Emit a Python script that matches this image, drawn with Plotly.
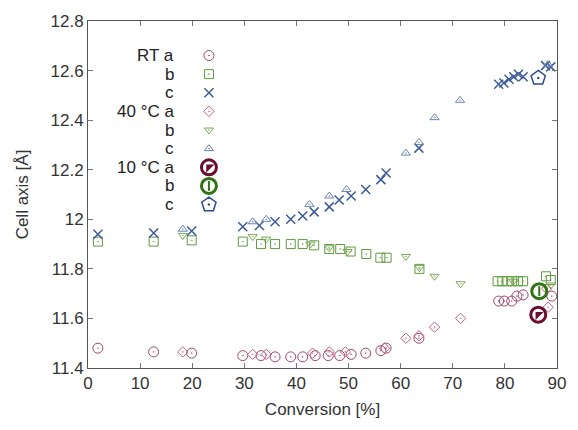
import plotly.graph_objects as go

# ---------------- data ----------------
rt_a_x = [1.9, 12.6, 19.9, 29.7, 33.2, 35.9, 38.9, 41.2, 43.6, 46.1, 48.3, 50.5, 53.3, 56.2, 57.2, 63.5,
          78.8, 79.9, 81.3, 82.3, 83.5, 89.0]
rt_a_y = [11.48, 11.465, 11.46, 11.45, 11.45, 11.445, 11.445, 11.445, 11.45, 11.45, 11.45, 11.455, 11.46,
          11.47, 11.48, 11.52, 11.67, 11.67, 11.67, 11.69, 11.695, 11.69]

rt_b_x = [1.9, 12.6, 19.9, 29.7, 33.2, 35.9, 38.9, 41.2, 43.4, 46.3, 48.4, 50.4, 53.4, 56.1, 57.3, 63.6,
          78.6, 79.5, 80.5, 81.4, 82.5, 83.5, 87.9, 88.8]
rt_b_y = [11.91, 11.91, 11.915, 11.91, 11.90, 11.90, 11.90, 11.90, 11.895, 11.88, 11.88, 11.87, 11.86,
          11.845, 11.845, 11.80, 11.75, 11.75, 11.75, 11.75, 11.75, 11.75, 11.77, 11.755]

rt_c_x = [1.9, 12.6, 19.9, 29.7, 32.9, 35.9, 38.9, 41.2, 43.4, 46.3, 48.2, 50.5, 53.3, 56.2, 57.2, 63.5,
          78.8, 79.8, 80.8, 81.7, 82.6, 83.5, 87.8, 88.8]
rt_c_y = [11.94, 11.945, 11.953, 11.97, 11.975, 11.99, 12.0, 12.013, 12.03, 12.05, 12.078, 12.094, 12.12,
          12.16, 12.187, 12.287, 12.545, 12.55, 12.565, 12.575, 12.585, 12.575, 12.62, 12.615]

c40_a_x = [18.2, 31.6, 34.2, 43.1, 46.3, 49.4, 56.9, 61.0, 63.5, 66.5, 71.5, 88.0, 88.3]
c40_a_y = [11.465, 11.455, 11.455, 11.46, 11.465, 11.465, 11.48, 11.52, 11.53, 11.565, 11.60, 11.72, 11.645]

c40_b_x = [18.2, 31.6, 34.2, 42.7, 46.3, 49.8, 61.0, 63.6, 66.5, 71.5, 81.6, 88.8]
c40_b_y = [11.935, 11.93, 11.92, 11.90, 11.885, 11.87, 11.85, 11.805, 11.77, 11.74, 11.75, 11.735]

c40_c_x = [18.2, 31.6, 34.2, 42.5, 46.3, 49.6, 61.0, 63.5, 66.5, 71.4, 88.3]
c40_c_y = [11.96, 11.99, 12.0, 12.06, 12.094, 12.12, 12.267, 12.31, 12.41, 12.48, 12.625]

c10_a_x = [86.4]
c10_a_y = [11.615]
c10_b_x = [86.6]
c10_b_y = [11.71]
c10_c_x = [86.4]
c10_c_y = [12.57]

x_ticks = [0, 10, 20, 30, 40, 50, 60, 70, 80, 90]
y_ticks = [11.4, 11.6, 11.8, 12.0, 12.2, 12.4, 12.6, 12.8]
y_tick_labels = ["11.4", "11.6", "11.8", "12", "12.2", "12.4", "12.6", "12.8"]

legend_labels = ["RT a", "b", "c", "40 °C a", "b", "c", "10 °C a", "b", "c"]

# ---------------- styles ----------------
COL = {
    "rt_a": "#a0486a", "rt_b": "#5f9a3c", "rt_c": "#3d5a9a",
    "c40_a": "#c0607e", "c40_b": "#7aa85a", "c40_c": "#6a84b8",
    "c10_a": "#6b0d2e", "c10_b": "#2f7314", "c10_c": "#2c4a8a",
}


def mk(symbol, color, size, width):
    return dict(symbol=symbol, color=color, size=size, line=dict(color=color, width=width))


# list of (x, y, [marker layers])
series = [
    (rt_a_x, rt_a_y, [mk("circle-open-dot", COL["rt_a"], 10, 1)]),
    (rt_b_x, rt_b_y, [mk("square-open-dot", COL["rt_b"], 9, 1)]),
    (rt_c_x, rt_c_y, [mk("x-thin", COL["rt_c"], 9, 1.5)]),
    (c40_a_x, c40_a_y, [mk("diamond-open-dot", COL["c40_a"], 8, 1)]),
    (c40_b_x, c40_b_y, [mk("triangle-down-open-dot", COL["c40_b"], 8, 1)]),
    (c40_c_x, c40_c_y, [mk("triangle-up-open-dot", COL["c40_c"], 8, 1)]),
    (c10_a_x, c10_a_y, [mk("circle-open", COL["c10_a"], 15, 3), mk("triangle-nw", COL["c10_a"], 9, 0)]),
    (c10_b_x, c10_b_y, [mk("circle-open", COL["c10_b"], 15, 3), mk("line-ns", COL["c10_b"], 7, 2)]),
    (c10_c_x, c10_c_y, [mk("pentagon-open-dot", COL["c10_c"], 15, 1.5)]),
]

fig = go.Figure()

for xs, ys, layers in series:
    for m in layers:
        fig.add_trace(go.Scatter(x=xs, y=ys, mode="markers", marker=m,
                                 showlegend=False, hoverinfo="skip", cliponaxis=False))

# ---------------- custom legend (overlay axes in paper-like units) ----------------
W, H = 578, 430
ML, MR, MT, MB = 88, 13, 16, 62
plot_w = W - ML - MR
plot_h = H - MT - MB
leg_marker_px = 211
leg_text_px = 177
leg_row0 = 51
leg_step = 18.9

for i, (lab, (xs, ys, layers)) in enumerate(zip(legend_labels, series)):
    ypix = leg_row0 + i * leg_step
    yp = (H - MB - ypix) / plot_h
    xp = (leg_marker_px - ML) / plot_w
    for m in layers:
        fig.add_trace(go.Scatter(x=[xp], y=[yp], xaxis="x2", yaxis="y2", mode="markers",
                                 marker=m, showlegend=False, hoverinfo="skip", cliponaxis=False))
    fig.add_annotation(x=(leg_text_px - ML) / plot_w, y=yp, xref="x2", yref="y2",
                       text=lab, showarrow=False, xanchor="right", yanchor="middle",
                       font=dict(size=17, color="#222"))

axis_common = dict(showline=True, linecolor="#555", linewidth=1, mirror="ticks",
                   ticks="inside", ticklen=5, tickcolor="#777", showgrid=False, zeroline=False,
                   tickfont=dict(size=17, color="#333"))

fig.update_layout(
    width=W, height=H,
    margin=dict(l=ML, r=MR, t=MT, b=MB),
    paper_bgcolor="white", plot_bgcolor="white",
    font=dict(family="Liberation Sans, Arial, sans-serif", color="#333"),
    showlegend=False,
    xaxis=dict(range=[0, 90], tickvals=x_ticks, title=dict(text="Conversion [%]", font=dict(size=17), standoff=10),
               **axis_common),
    yaxis=dict(range=[11.4, 12.8], tickvals=y_ticks, ticktext=y_tick_labels,
               title=dict(text="Cell axis [Å]", font=dict(size=17), standoff=17), **axis_common),
    xaxis2=dict(overlaying="x", range=[0, 1], visible=False),
    yaxis2=dict(overlaying="y", range=[0, 1], visible=False),
)

fig.write_html("out.html")
